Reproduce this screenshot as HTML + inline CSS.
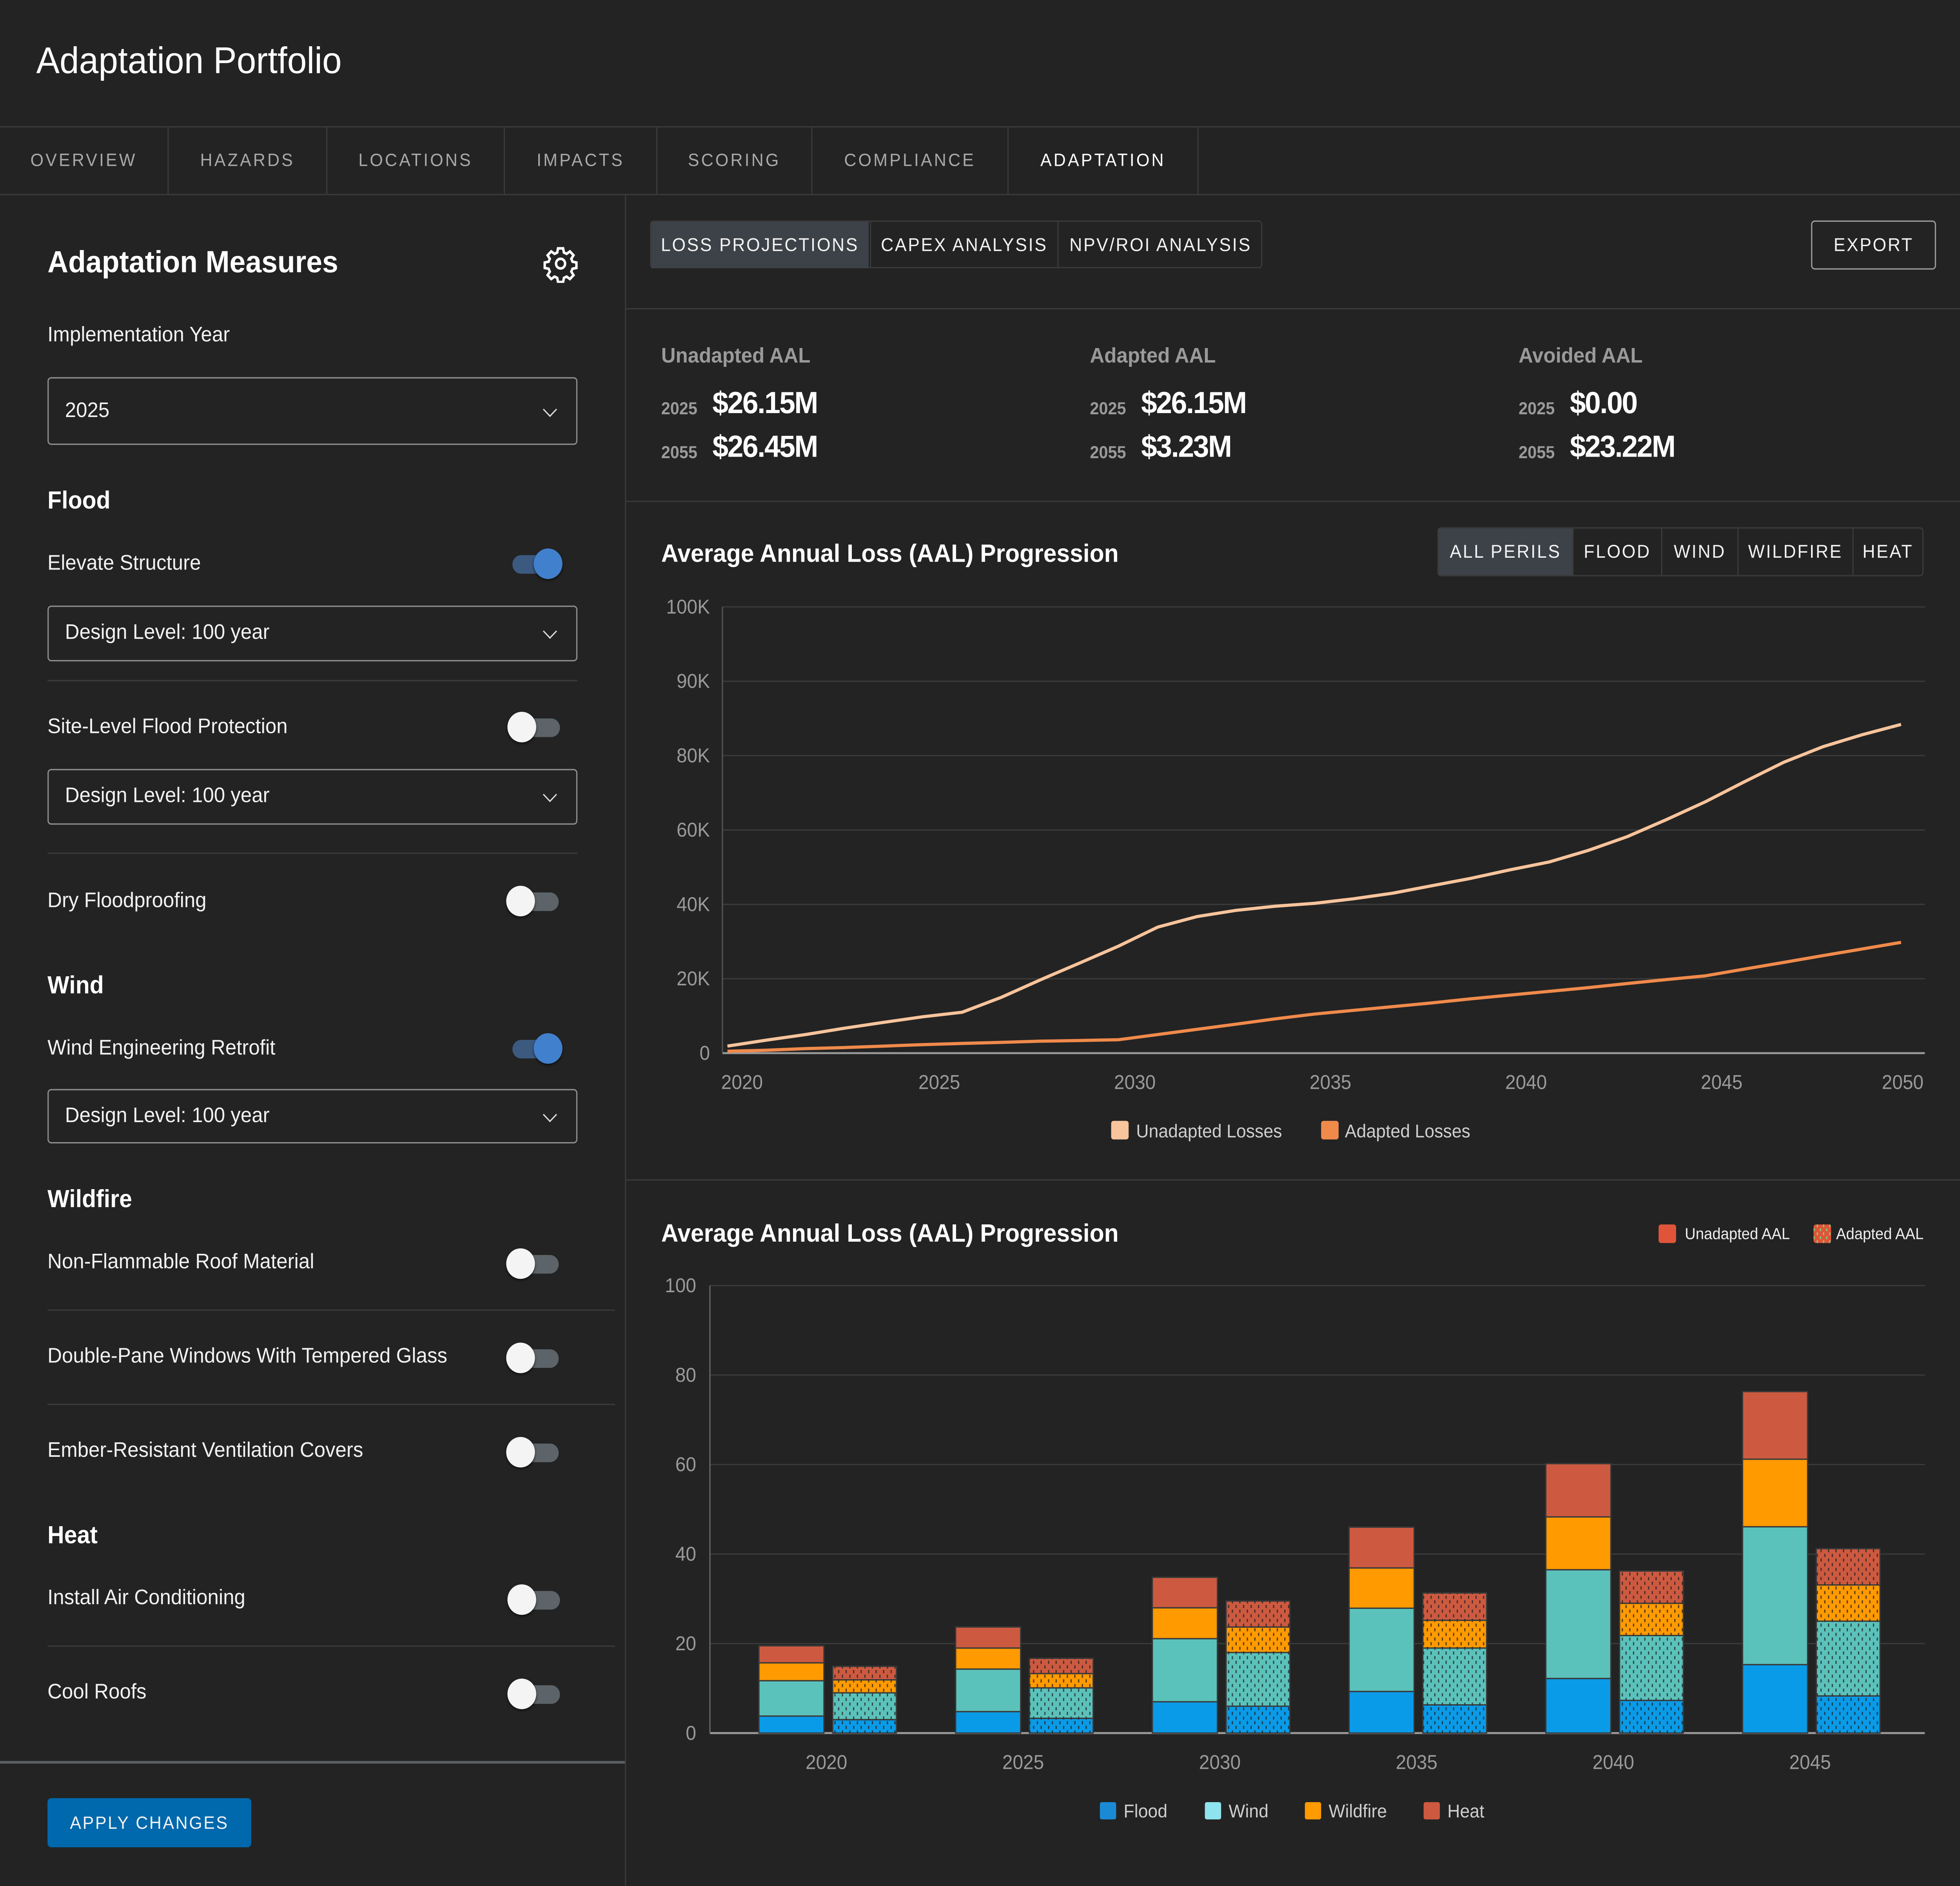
<!DOCTYPE html>
<html><head><meta charset="utf-8">
<style>
html,body{margin:0;padding:0;background:#232323;overflow:hidden;width:100%;height:100%;}
#clip{position:absolute;left:0;top:0;width:100vw;height:100vh;overflow:hidden;background:#232323;}
#root{position:absolute;left:0;top:0;width:1568px;height:1420px;transform:scale(3.3875,3.3885);transform-origin:0 0;background:#232323;font-family:"Liberation Sans",sans-serif;color:#fff;overflow:hidden;}
.a{position:absolute;white-space:nowrap;}
.hl{position:absolute;height:1px;background:#3a3a3a;}
.vl{position:absolute;width:1px;background:#3a3a3a;}
.tab{position:absolute;top:96px;height:50px;line-height:50px;font-size:13.5px;letter-spacing:1.6px;color:#a9a9a9;text-align:center;border-right:1px solid #3a3a3a;box-sizing:border-box;}
.lbl{position:absolute;left:38px;font-size:16px;color:#f2f2f2;transform:translateY(-50%);}
.sec{position:absolute;left:38px;font-size:18.5px;font-weight:bold;transform:translateY(-50%);}
.sel{position:absolute;left:38px;width:424px;border:1.3px solid #8d8d8d;border-radius:3px;box-sizing:border-box;font-size:16px;color:#f2f2f2;}
.sel span{position:absolute;left:13px;top:50%;transform:translateY(-50%);}
.chev{position:absolute;right:17px;top:50%;width:7px;height:7px;border-right:1.4px solid #ddd;border-bottom:1.4px solid #ddd;transform:translateY(-70%) rotate(45deg);}
.tg{position:absolute;width:44px;height:22px;}
.tg .tr{position:absolute;left:4px;top:5px;width:38px;height:14px;border-radius:7px;background:#5c6469;}
.tg .th{position:absolute;top:0;width:23px;height:23px;border-radius:50%;background:#f4f4f4;box-shadow:0 1px 2px rgba(0,0,0,.6);left:0;}
.tg.on .tr{background:#3c5a80;}
.tg.on .th{background:#4180cc;left:21px;}
.btn{position:absolute;box-sizing:border-box;font-size:14px;letter-spacing:1.1px;text-align:center;color:#f2f2f2;}
.kl{position:absolute;font-size:16px;color:#9a9a9a;font-weight:bold;}
.ky{position:absolute;font-size:13px;color:#9a9a9a;font-weight:bold;}
.kv{position:absolute;font-size:23px;font-weight:bold;letter-spacing:-0.8px;}
</style></head>
<body>
<div id="clip">
<div id="root">
  <div class="a" style="left:29px;top:30px;font-size:28px;">Adaptation Portfolio</div>
  <div class="hl" style="left:0;top:95px;width:1568px;"></div>
  <div class="tab" style="left:0;width:135px;">OVERVIEW</div>
  <div class="tab" style="left:135px;width:127px;">HAZARDS</div>
  <div class="tab" style="left:262px;width:142px;">LOCATIONS</div>
  <div class="tab" style="left:404px;width:122px;">IMPACTS</div>
  <div class="tab" style="left:526px;width:124px;">SCORING</div>
  <div class="tab" style="left:650px;width:157px;">COMPLIANCE</div>
  <div class="tab" style="left:807px;width:152px;color:#fff;">ADAPTATION</div>
  <div class="hl" style="left:0;top:146px;width:1568px;"></div>
  <div class="vl" style="left:500px;top:147px;height:1273px;"></div>

  <div class="a" style="left:38px;top:184px;font-size:23px;font-weight:bold;">Adaptation Measures</div>
  <svg class="a" style="left:434px;top:184px;" width="29" height="29" viewBox="0 0 24 24"><path fill="none" stroke="#fff" stroke-width="1.6" d="M10.3 2.5h3.4l.5 2.6 1.8.8 2.2-1.5 2.4 2.4-1.5 2.2.8 1.8 2.6.5v3.4l-2.6.5-.8 1.8 1.5 2.2-2.4 2.4-2.2-1.5-1.8.8-.5 2.6h-3.4l-.5-2.6-1.8-.8-2.2 1.5-2.4-2.4 1.5-2.2-.8-1.8-2.6-.5v-3.4l2.6-.5.8-1.8-1.5-2.2 2.4-2.4 2.2 1.5 1.8-.8z"/><circle cx="12" cy="12" r="3" fill="none" stroke="#fff" stroke-width="1.6"/></svg>
  <div class="lbl" style="top:253px;">Implementation Year</div>
  <div class="sel" style="top:284px;height:51px;"><span>2025</span><div class="chev"></div></div>

  <div class="sec" style="top:377px;">Flood</div>
  <div class="lbl" style="top:425px;">Elevate Structure</div>
  <div class="tg on" style="left:406px;top:413px;"><div class="tr"></div><div class="th"></div></div>
  <div class="sel" style="top:456px;height:42px;"><span>Design Level: 100 year</span><div class="chev"></div></div>
  <div class="hl" style="left:38px;top:512px;width:424px;"></div>
  <div class="lbl" style="top:548px;">Site-Level Flood Protection</div>
  <div class="tg" style="left:406px;top:536px;"><div class="tr"></div><div class="th"></div></div>
  <div class="sel" style="top:579px;height:42px;"><span>Design Level: 100 year</span><div class="chev"></div></div>
  <div class="hl" style="left:38px;top:642px;width:424px;"></div>
  <div class="lbl" style="top:679px;">Dry Floodproofing</div>
  <div class="tg" style="left:405px;top:667px;"><div class="tr"></div><div class="th"></div></div>

  <div class="sec" style="top:742px;">Wind</div>
  <div class="lbl" style="top:790px;">Wind Engineering Retrofit</div>
  <div class="tg on" style="left:406px;top:778px;"><div class="tr"></div><div class="th"></div></div>
  <div class="sel" style="top:820px;height:41px;"><span>Design Level: 100 year</span><div class="chev"></div></div>

  <div class="sec" style="top:903px;">Wildfire</div>
  <div class="lbl" style="top:951px;">Non-Flammable Roof Material</div>
  <div class="tg" style="left:405px;top:940px;"><div class="tr"></div><div class="th"></div></div>
  <div class="hl" style="left:38px;top:986px;width:454px;"></div>
  <div class="lbl" style="top:1022px;">Double-Pane Windows With Tempered Glass</div>
  <div class="tg" style="left:405px;top:1011px;"><div class="tr"></div><div class="th"></div></div>
  <div class="hl" style="left:38px;top:1057px;width:454px;"></div>
  <div class="lbl" style="top:1093px;">Ember-Resistant Ventilation Covers</div>
  <div class="tg" style="left:405px;top:1082px;"><div class="tr"></div><div class="th"></div></div>

  <div class="sec" style="top:1156px;">Heat</div>
  <div class="lbl" style="top:1204px;">Install Air Conditioning</div>
  <div class="tg" style="left:406px;top:1193px;"><div class="tr"></div><div class="th"></div></div>
  <div class="hl" style="left:38px;top:1239px;width:454px;"></div>
  <div class="lbl" style="top:1275px;">Cool Roofs</div>
  <div class="tg" style="left:406px;top:1264px;"><div class="tr"></div><div class="th"></div></div>
  <div class="hl" style="left:0;top:1326px;width:500px;background:#5a6063;height:1.5px;"></div>
  <div class="btn" style="left:38px;top:1354px;width:163px;height:37px;line-height:37px;background:#0068ad;border-radius:3px;font-size:13.5px;">APPLY CHANGES</div>

  <div class="a" style="left:520px;top:166px;width:490px;height:36px;border:1px solid #3a3a3a;border-radius:3px;box-sizing:border-box;"></div>
  <div class="btn" style="left:521px;top:167px;width:174px;height:35px;line-height:35px;background:#3d4248;">LOSS PROJECTIONS</div>
  <div class="btn" style="left:696px;top:167px;width:150px;height:35px;line-height:35px;border-left:1px solid #3a3a3a;">CAPEX ANALYSIS</div>
  <div class="btn" style="left:846px;top:167px;width:164px;height:35px;line-height:35px;border-left:1px solid #3a3a3a;">NPV/ROI ANALYSIS</div>
  <div class="btn" style="left:1449px;top:166px;width:100px;height:37px;line-height:35px;border:1.3px solid #9a9a9a;border-radius:3px;">EXPORT</div>
  <div class="hl" style="left:501px;top:232px;width:1067px;"></div>

  <div class="kl" style="left:529px;top:260px;">Unadapted AAL</div>
  <div class="ky" style="left:529px;top:300px;">2025</div><div class="kv" style="left:570px;top:290px;">$26.15M</div>
  <div class="ky" style="left:529px;top:333px;">2055</div><div class="kv" style="left:570px;top:323px;">$26.45M</div>
  <div class="kl" style="left:872px;top:260px;">Adapted AAL</div>
  <div class="ky" style="left:872px;top:300px;">2025</div><div class="kv" style="left:913px;top:290px;">$26.15M</div>
  <div class="ky" style="left:872px;top:333px;">2055</div><div class="kv" style="left:913px;top:323px;">$3.23M</div>
  <div class="kl" style="left:1215px;top:260px;">Avoided AAL</div>
  <div class="ky" style="left:1215px;top:300px;">2025</div><div class="kv" style="left:1256px;top:290px;">$0.00</div>
  <div class="ky" style="left:1215px;top:333px;">2055</div><div class="kv" style="left:1256px;top:323px;">$23.22M</div>
  <div class="hl" style="left:501px;top:377px;width:1067px;"></div>

  <div class="a" style="left:529px;top:407px;font-size:19px;font-weight:bold;">Average Annual Loss (AAL) Progression</div>
  <div class="a" style="left:1150px;top:397px;width:389px;height:37px;border:1px solid #3a3a3a;border-radius:3px;box-sizing:border-box;"></div>
  <div class="btn" style="left:1151px;top:398px;width:107px;height:35px;line-height:35px;background:#3d4248;">ALL PERILS</div>
  <div class="btn" style="left:1258px;top:398px;width:71px;height:35px;line-height:35px;border-left:1px solid #3a3a3a;">FLOOD</div>
  <div class="btn" style="left:1329px;top:398px;width:61px;height:35px;line-height:35px;border-left:1px solid #3a3a3a;">WIND</div>
  <div class="btn" style="left:1390px;top:398px;width:92px;height:35px;line-height:35px;border-left:1px solid #3a3a3a;">WILDFIRE</div>
  <div class="btn" style="left:1482px;top:398px;width:56px;height:35px;line-height:35px;border-left:1px solid #3a3a3a;">HEAT</div>
  <div class="hl" style="left:501px;top:888px;width:1067px;"></div>
  <div class="a" style="left:529px;top:919px;font-size:19px;font-weight:bold;">Average Annual Loss (AAL) Progression</div>

  <svg id="charts" class="a" style="left:0;top:0;" width="1568" height="1420">
    <defs>
      <pattern id="dots" width="6" height="7" patternUnits="userSpaceOnUse">
        <rect x="1.5" y="1" width="1" height="2.4" fill="#1e1e1e" opacity="0.75"/>
        <rect x="4.5" y="4.5" width="1" height="2.4" fill="#1e1e1e" opacity="0.75"/>
      </pattern>
      <pattern id="dotsg" width="5" height="6" patternUnits="userSpaceOnUse">
        <rect x="1" y="1" width="1" height="2" fill="#7ad67a"/>
        <rect x="3.5" y="4" width="1" height="2" fill="#7ad67a"/>
      </pattern>
    </defs>
    <g id="line-chart"></g>
    <g id="bar-chart"></g>
  </svg>
</div>
</div>
<script>
const lineYears = [2020,2021,2022,2023,2024,2025,2026,2027,2028,2029,2030,2031,2032,2033,2034,2035,2036,2037,2038,2039,2040,2041,2042,2043,2044,2045,2046,2047,2048,2049,2050];
const unadaptedLosses = [1900,3500,5000,6700,8300,9800,11000,15000,19700,24200,28800,33900,36700,38400,39500,40300,41500,43000,45000,47000,49300,51400,54500,58200,62800,67600,73000,78200,81200,82800,84200];
const adaptedLosses = [500,800,1200,1500,1900,2300,2600,2900,3200,3400,3600,5000,6400,7800,9200,10500,11500,12500,13500,14600,15600,16600,17600,18700,19800,20800,22600,24400,26200,28000,29800];
const lineTickValues = [0,20000,40000,60000,80000,90000,100000];
const lineTickLabels = ["0","20K","40K","60K","80K","90K","100K"];
const lineXTicks = [2020,2025,2030,2035,2040,2045,2050];

const barYears = ["2020","2025","2030","2035","2040","2045"];
const perils = ["Flood","Wind","Wildfire","Heat"];
const unadaptedFlood = [3.8,4.8,7.0,9.3,12.2,15.3];
const unadaptedWind = [7.9,9.5,14.1,18.6,24.3,30.8];
const unadaptedWildfire = [4.0,4.7,6.9,9.0,11.8,15.1];
const unadaptedHeat = [3.8,4.7,6.8,9.1,11.9,15.1];
const adaptedFlood = [3.0,3.3,6.0,6.3,7.3,8.3];
const adaptedWind = [6.0,6.8,12.0,12.7,14.5,16.7];
const adaptedWildfire = [2.9,3.2,5.7,6.2,7.2,8.1];
const adaptedHeat = [3.0,3.4,5.8,6.1,7.2,8.1];
const barTicks = [0,20,40,60,80,100];

(function fit(){
  const r = document.getElementById('root');
  const w = window.innerWidth || document.documentElement.clientWidth;
  const h = window.innerHeight || document.documentElement.clientHeight;
  if (w > 0 && h > 0){
    const sx = (w - 0.5) / 1568, sy = (h - 0.5) / 1420;
    r.style.transform = 'scale(' + sx + ',' + sy + ')';
  }
})();

const NS = "http://www.w3.org/2000/svg";
function mk(tag, attrs, parent, text){
  const e = document.createElementNS(NS, tag);
  for (const k in attrs) e.setAttribute(k, attrs[k]);
  if (text !== undefined) e.textContent = text;
  parent.appendChild(e);
  return e;
}
const FONT = "Liberation Sans, sans-serif";

(function(){
  const g = document.getElementById('line-chart');
  const L = 578, R = 1540, B = 793, T = 457;
  const xs = yr => 582 + (yr - 2020) / 30 * (1521 - 582);
  const step = (B - T) / (lineTickValues.length - 1);
  function ys(v){
    for (let i = 0; i < lineTickValues.length - 1; i++){
      const a = lineTickValues[i], b = lineTickValues[i+1];
      if (v <= b || i === lineTickValues.length - 2){
        return B - (i + (v - a) / (b - a)) * step;
      }
    }
  }
  lineTickValues.forEach((v, i) => {
    const y = ys(v);
    const gl = mk('line', {x1:L, x2:R, y1:y, y2:y, stroke: i===0 ? '#9a9a9a' : '#3a3a3a', 'stroke-width': i===0?1.5:1}, g);
    
    
    const t = mk('text', {x:568, y:y+5, 'text-anchor':'end', 'font-size':15, fill:'#9a9a9a', 'font-family':FONT}, g, lineTickLabels[i]);
    
    
  });
  const ax = mk('line', {x1:L, x2:L, y1:T, y2:B, stroke:'#555', 'stroke-width':1}, g);
  
  
  lineXTicks.forEach((yr, i) => {
    let anchor = 'middle', x = xs(yr) + 13;
    if (i === lineXTicks.length - 1){ anchor = 'end'; x = 1539; }
    if (i === 0){ anchor = 'start'; x = 577; }
    const t = mk('text', {x:x, y:820, 'text-anchor':anchor, 'font-size':15, fill:'#9a9a9a', 'font-family':FONT}, g, String(yr));
    
    
  });
  function path(vals){
    return vals.map((v, i) => (i ? 'L' : 'M') + xs(lineYears[i]).toFixed(1) + ',' + ys(v).toFixed(1)).join(' ');
  }
  const p1 = mk('path', {d:path(unadaptedLosses), fill:'none', stroke:'#f8c49c', 'stroke-width':2.4, 'stroke-linejoin':'round'}, g);
  
  
  const p2 = mk('path', {d:path(adaptedLosses), fill:'none', stroke:'#f08a4b', 'stroke-width':2.4, 'stroke-linejoin':'round'}, g);
  
  
  const l1 = mk('rect', {x:889, y:844, width:14, height:14, rx:2, fill:'#f8c49c'}, g);
  
  
  const lt1 = mk('text', {x:909, y:856.5, 'font-size':14, fill:'#cfcfcf', 'font-family':FONT}, g, 'Unadapted Losses');
  
  
  const l2 = mk('rect', {x:1057, y:844, width:14, height:14, rx:2, fill:'#f08a4b'}, g);
  
  
  const lt2 = mk('text', {x:1076, y:856.5, 'font-size':14, fill:'#cfcfcf', 'font-family':FONT}, g, 'Adapted Losses');
  
  
})();

(function(){
  const g = document.getElementById('bar-chart');
  const L = 568, R = 1540, B = 1305, T = 968;
  const ys = v => B - v / 100 * (B - T);
  const band = 157.4, x0 = 580.5;
  const cx = i => x0 + band * (i + 0.5);
  const colors = ['#0a9be8', '#5bc2bb', '#ff9a00', '#cd5a40'];
  barTicks.forEach((v, i) => {
    const y = ys(v);
    const gl = mk('line', {x1:L, x2:R, y1:y, y2:y, stroke: i===0 ? '#9a9a9a' : '#3a3a3a', 'stroke-width': i===0?1.5:1}, g);
    
    
    const t = mk('text', {x:557, y:y+5, 'text-anchor':'end', 'font-size':15, fill:'#9a9a9a', 'font-family':FONT}, g, String(v));
    
    
  });
  const ax = mk('line', {x1:L, x2:L, y1:T, y2:B, stroke:'#666', 'stroke-width':1}, g);
  
  
  const unS = [unadaptedFlood, unadaptedWind, unadaptedWildfire, unadaptedHeat];
  const adS = [adaptedFlood, adaptedWind, adaptedWildfire, adaptedHeat];
  barYears.forEach((yr, i) => {
    const c = cx(i);
    let acc = 0;
    unS.forEach((s, k) => {
      const y0 = ys(acc), y1 = ys(acc + s[i]);
      const r = mk('rect', {x:c-52, y:y1, width:52, height:y0-y1, fill:colors[k], stroke:'#3a3a3a', 'stroke-width':1}, g);
      
      
      acc += s[i];
    });
    acc = 0;
    adS.forEach((s, k) => {
      const y0 = ys(acc), y1 = ys(acc + s[i]);
      const r = mk('rect', {x:c+7, y:y1, width:51, height:y0-y1, fill:colors[k], stroke:'#3a3a3a', 'stroke-width':1}, g);
      
      
      mk('rect', {x:c+7, y:y1, width:51, height:y0-y1, fill:'url(#dots)'}, g);
      acc += s[i];
    });
    const t = mk('text', {x:c+2, y:1332, 'text-anchor':'middle', 'font-size':15, fill:'#9a9a9a', 'font-family':FONT}, g, yr);
    
    
  });
  const s1 = mk('rect', {x:1327, y:922, width:14, height:14, rx:2, fill:'#e0553a'}, g);
  
  
  const t1 = mk('text', {x:1348, y:933, 'font-size':12, fill:'#eee', 'font-family':FONT}, g, 'Unadapted AAL');
  
  
  const s2 = mk('rect', {x:1451, y:922, width:14, height:14, rx:2, fill:'#e0553a'}, g);
  
  
  mk('rect', {x:1451, y:922, width:14, height:14, fill:'url(#dotsg)'}, g);
  const t2 = mk('text', {x:1469, y:933, 'font-size':12, fill:'#eee', 'font-family':FONT}, g, 'Adapted AAL');
  
  
  const lx = [880, 964, 1044, 1139];
  const lcol = ['#1a8ad6', '#8fe3ee', '#ff9a00', '#cd5a40'];
  perils.forEach((p, k) => {
    const sw = mk('rect', {x:lx[k], y:1357, width:13, height:13, rx:1.5, fill:lcol[k]}, g);
    
    
    const tt = mk('text', {x:lx[k]+19, y:1368.5, 'font-size':14, fill:'#cfcfcf', 'font-family':FONT}, g, p);
    
    
  });
})();
</script>
</body></html>
